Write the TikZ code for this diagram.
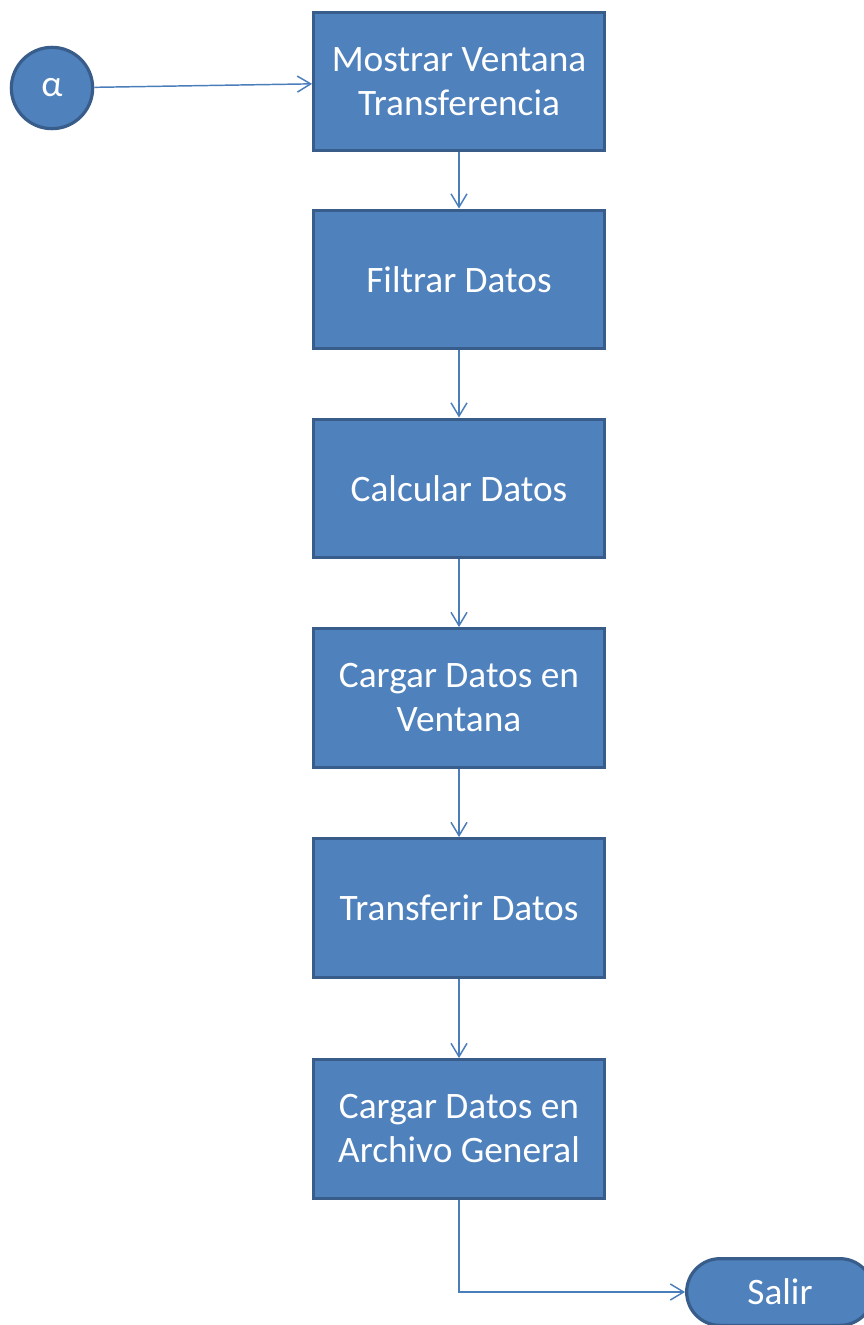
\documentclass[tikz,border=0pt]{standalone}
\usepackage{fontspec}
\setmainfont{Carlito}
\usetikzlibrary{arrows.meta}
\definecolor{boxfill}{HTML}{4F81BD}
\definecolor{boxline}{HTML}{385D8A}
\definecolor{arrowline}{HTML}{4A7EBB}
\tikzset{
  procbox/.style={draw=boxline,fill=boxfill,line width=2.4pt,minimum width=218pt,minimum height=104pt,
    inner sep=0pt,text=white,align=center,font=\fontsize{28pt}{33pt}\selectfont},
  connbox/.style={circle,draw=boxline,fill=boxfill,line width=2.4pt,minimum size=61pt,inner sep=0pt,
    text=white,font=\fontsize{28pt}{33pt}\selectfont},
  endbox/.style={draw=boxline,fill=boxfill,line width=2.4pt,minimum width=140pt,minimum height=50pt,
    rounded corners=25pt,inner sep=0pt,text=white,font=\fontsize{28pt}{33pt}\selectfont},
  flow/.style={draw=arrowline,line width=1.1pt,-{Straight Barb[length=10pt,width=12pt]}}
}
\begin{document}
\begin{tikzpicture}[x=0.75pt,y=-0.75pt]
        \useasboundingbox (0,0) rectangle (864,1325);
        \node[connbox] (alfa) at (52,88) {α};
        \node[procbox] (mostrar) at (459,81.5) {Mostrar Ventana\\Transferencia};
        \node[procbox] (filtrar) at (459,279.5) {Filtrar Datos};
        \node[procbox] (calcular) at (459,488.5) {Calcular Datos};
        \node[procbox] (cargarv) at (459,698) {Cargar Datos en\\Ventana};
        \node[procbox] (transferir) at (459,908) {Transferir Datos};
        \node[procbox] (cargara) at (459,1129) {Cargar Datos en\\Archivo General};
        \node[endbox] (salir) at (780,1292) {Salir};
        \draw[flow] (alfa) -- (mostrar);
        \draw[flow] (mostrar) -- (filtrar);
        \draw[flow] (filtrar) -- (calcular);
        \draw[flow] (calcular) -- (cargarv);
        \draw[flow] (cargarv) -- (transferir);
        \draw[flow] (transferir) -- (cargara);
        \draw[flow] (cargara) |- (salir);
        \end{tikzpicture}
\end{document}
